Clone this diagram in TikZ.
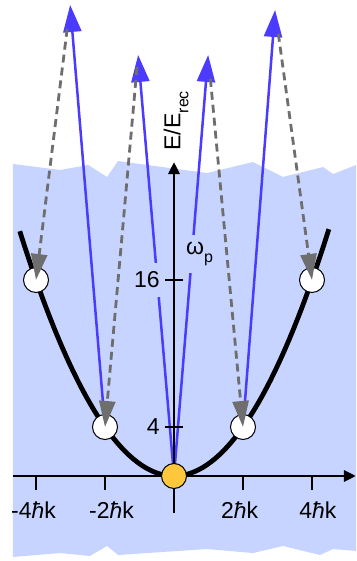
\documentclass[tikz,border=0pt]{standalone}
\usepackage{fontspec}
\setmainfont{Liberation Sans}
\usetikzlibrary{arrows.meta}
\newcommand{\lowtxt}[1]{\raisebox{-0.35em}{\fontsize{16}{16}\selectfont #1}}
\begin{document}
\begin{tikzpicture}[x=34.5pt, y=12.25pt]
  \definecolor{bgblue}{RGB}{199,212,255}
  \definecolor{kick}{RGB}{75,59,255}
  \definecolor{decay}{RGB}{110,110,110}
  \definecolor{gold}{RGB}{255,200,60}
  \tikzstyle{lbl}=[font=\fontsize{23}{27}\selectfont, inner sep=1pt]
  \tikzstyle{pulse}=[kick, line width=2.5pt, -{Triangle[length=27pt,width=18pt]}]
  \tikzstyle{emit}=[decay, line width=2.8pt, dash pattern=on 8pt off 5pt, shorten <=24pt, -{Triangle[length=26pt,width=16pt]}]
  \tikzstyle{state}=[circle, draw, line width=1pt, fill=white, minimum size=25pt, inner sep=0pt]
  \tikzstyle{ax}=[line width=2.9pt, -{Triangle[length=12pt,width=11pt]}]
  \tikzstyle{tickline}=[line width=2.8pt]

  \useasboundingbox (-5.0435,-6.939) rectangle (5.2754,38.857);

  % Torn sheet behind the plot, x in units of hbar k, y in units of E_rec.
  \fill[bgblue] (-4.67,25.47) -- (-3.30,24.98) -- (-2.49,25.39) -- (-1.94,24.41)
    -- (-1.62,25.71) -- (0.96,24.73) -- (2.29,25.63) -- (3.16,24.41) -- (4.32,25.22)
    -- (4.61,24.65) -- (5.28,25.39) -- (5.28,-6.12) -- (4.61,-5.96) -- (4.23,-6.45)
    -- (3.16,-5.71) -- (2.29,-6.29) -- (0.96,-5.96) -- (-1.62,-6.45) -- (-1.94,-5.71)
    -- (-2.44,-6.53) -- (-3.30,-6.29) -- (-4.67,-6.61) -- cycle;

  % States on the parabola and the tips of the kicks
  \coordinate (s0) at (0,0);
  \coordinate (sm2) at (-2,4);
  \coordinate (sp2) at (2,4);
  \coordinate (sm4) at (-4,16);
  \coordinate (sp4) at (4,16);
  \coordinate (t1) at (-3.01,38.45);
  \coordinate (t2) at (-1.04,34.37);
  \coordinate (t3) at (0.99,34.37);
  \coordinate (t4) at (2.93,38.04);

  \draw[pulse] (s0) -- (t2);
  \draw[pulse] (s0) -- (t3);
  \draw[pulse] (sm2) -- (t1);
  \draw[pulse] (sp2) -- (t4);

  % Labels sit on a patch of the background, so the lines stop at them
  \node[lbl, fill=bgblue, inner ysep=9pt, anchor=east] (e16) at (-0.38,16) {16};
  \node[lbl, fill=bgblue, anchor=east] (e4) at (-0.38,4) {4};
  \node[lbl, fill=bgblue, inner ysep=7pt] (wp) at (0.74,18.1) {ω\lowtxt{p}};
  \node[lbl, rotate=90] (ey) at (0.06,29.0) {E/E\lowtxt{rec}};

  % Axes
  \coordinate (xa0) at (-4.667,0);
  \coordinate (xa1) at (5.275,0);
  \coordinate (ya0) at (0,-3.02);
  \coordinate (ya1) at (0,25.63);
  \draw[ax] (xa0) -- (xa1);
  \draw[ax] (ya0) -- (ya1);
  \foreach \k in {-4,-2,2,4}
    \draw[tickline] (\k,0) -- (\k,-1.14);
  \foreach \e in {4,16}
    \draw[tickline] (-0.26,\e) -- (0.26,\e);
  \node[lbl] (xl1) at (-4.07,-2.78) {-4{\itshape ħ}k};
  \node[lbl] (xl2) at (-1.81,-2.78) {-2{\itshape ħ}k};
  \node[lbl] (xl3) at (1.90,-2.78) {2{\itshape ħ}k};
  \node[lbl] (xl4) at (4.17,-2.78) {4{\itshape ħ}k};

  \draw[line width=4.8pt, domain=-4.47:4.49, samples=80] plot (\x,{\x*\x});

  \node[state, fill=gold] (g0) at (s0) {};
  \node[state] (m2) at (sm2) {};
  \node[state] (p2) at (sp2) {};
  \node[state] (m4) at (sm4) {};
  \node[state] (p4) at (sp4) {};

  \draw[emit] (t1) -- (m4.center);
  \draw[emit, shorten <=12pt] (t2) -- (m2.center);
  \draw[emit] (t3) -- (p2.center);
  \draw[emit] (t4) -- (p4.center);
\end{tikzpicture}
\end{document}
